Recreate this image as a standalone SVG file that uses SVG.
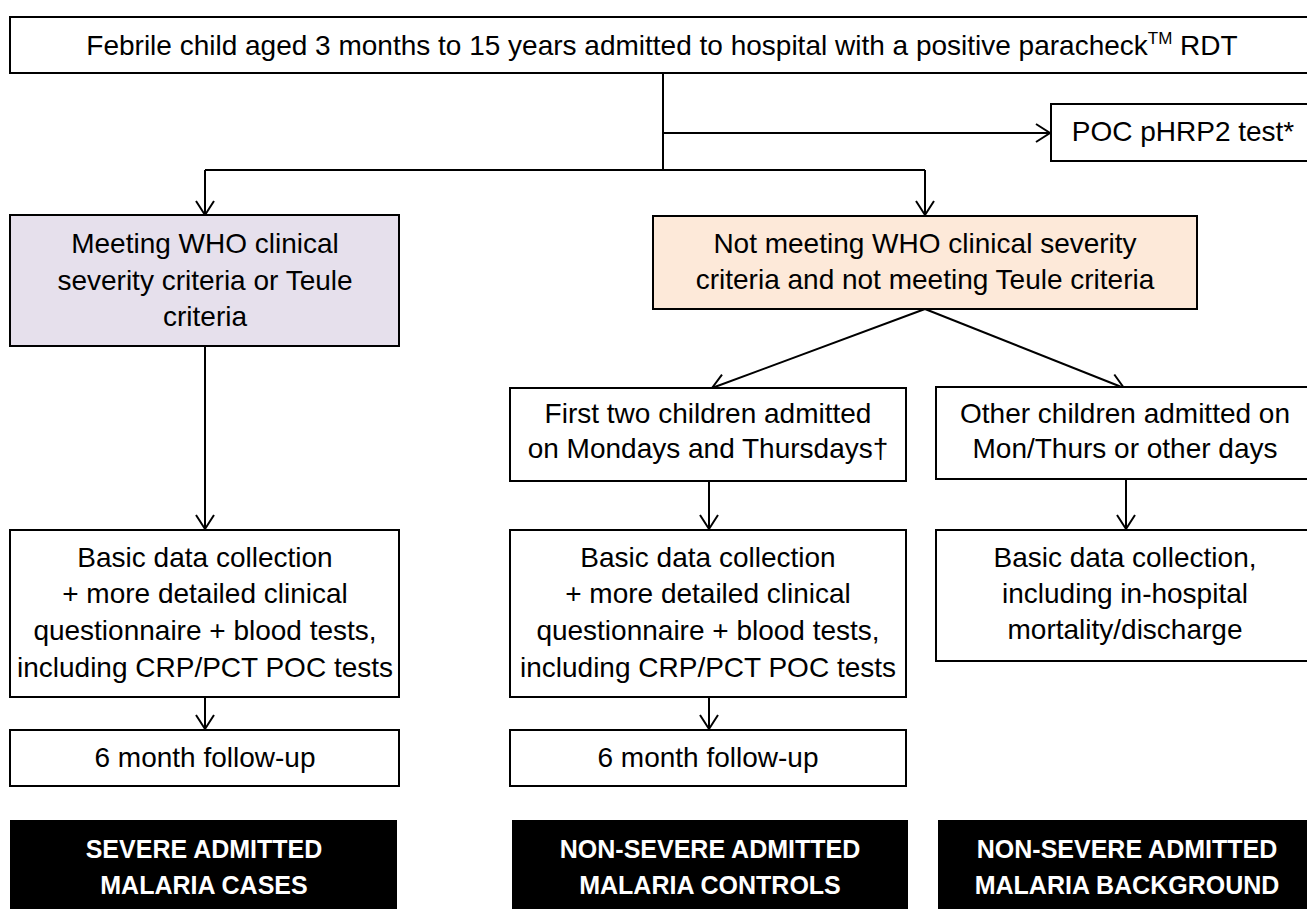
<svg xmlns="http://www.w3.org/2000/svg" width="1307" height="909" viewBox="0 0 1307 909">
<style>
  .box { fill: #ffffff; stroke: #000; stroke-width: 2; }
  .purple { fill: #e6e0ec; stroke: #000; stroke-width: 2; }
  .orange { fill: #fde9d9; stroke: #000; stroke-width: 2; }
  .black { fill: #000; stroke: none; }
  .t { font-family: "Liberation Sans", Arial, sans-serif; font-size: 28px; fill: #000; text-anchor: middle; }
  .w { font-family: "Liberation Sans", Arial, sans-serif; font-size: 25px; font-weight: bold; fill: #fff; text-anchor: middle; }
  .ln { fill: none; stroke: #000; stroke-width: 2; }
  .arr { fill: none; stroke: #000; stroke-width: 2; marker-end: url(#ah); }
</style>
<defs>
  <marker id="ah" markerUnits="userSpaceOnUse" markerWidth="20" markerHeight="24" viewBox="-16 -12 20 24" refX="0" refY="0" orient="auto">
    <path d="M -14 -9 L 0 0 L -14 9" fill="none" stroke="#000" stroke-width="2"/>
  </marker>
</defs>
<rect width="1307" height="909" fill="#fff"/>

<g id="connectors">
  <path class="ln" d="M 663 73 L 663 170"/>
  <path class="arr" d="M 663 133 L 1050 133"/>
  <path class="ln" d="M 205 170 L 925 170"/>
  <path class="arr" d="M 205 170 L 205 215"/>
  <path class="arr" d="M 925 170 L 925 215"/>
  <path class="arr" d="M 205 346 L 205 529"/>
  <path class="arr" d="M 205 697 L 205 729"/>
  <path class="arr" d="M 925 309 L 712 388"/>
  <path class="arr" d="M 925 309 L 1124 388"/>
  <path class="arr" d="M 709 481 L 709 529"/>
  <path class="arr" d="M 709 697 L 709 729"/>
  <path class="arr" d="M 1126 479 L 1126 529"/>
</g>

<g id="n-top">
  <rect class="box" x="10" y="17" width="1310" height="56"/>
  <text class="t" x="662" y="55">Febrile child aged 3 months to 15 years admitted to hospital with a positive paracheck<tspan font-size="17" dy="-11">TM</tspan><tspan dy="11"> RDT</tspan></text>
</g>

<g id="n-poc">
  <rect class="box" x="1051" y="104" width="270" height="57"/>
  <text class="t" x="1183" y="141">POC pHRP2 test*</text>
</g>

<g id="n-severe">
  <rect class="purple" x="10" y="215" width="389" height="131"/>
  <text class="t" x="205" y="253">Meeting WHO clinical</text>
  <text class="t" x="205" y="290">severity criteria or Teule</text>
  <text class="t" x="205" y="326">criteria</text>
</g>

<g id="n-nonsevere">
  <rect class="orange" x="653" y="216" width="544" height="93"/>
  <text class="t" x="925" y="253">Not meeting WHO clinical severity</text>
  <text class="t" x="925" y="289">criteria and not meeting Teule criteria</text>
</g>

<g id="n-firsttwo">
  <rect class="box" x="510" y="388" width="396" height="93"/>
  <text class="t" x="708" y="423">First two children admitted</text>
  <text class="t" x="708" y="458">on Mondays and Thursdays†</text>
</g>

<g id="n-other">
  <rect class="box" x="936" y="387" width="380" height="92"/>
  <text class="t" x="1125" y="423">Other children admitted on</text>
  <text class="t" x="1125" y="458">Mon/Thurs or other days</text>
</g>

<g id="n-basic-left">
  <rect class="box" x="10" y="530" width="389" height="167"/>
  <text class="t" x="205" y="567">Basic data collection</text>
  <text class="t" x="205" y="603">+ more detailed clinical</text>
  <text class="t" x="205" y="640">questionnaire + blood tests,</text>
  <text class="t" x="205" y="677">including CRP/PCT POC tests</text>
</g>

<g id="n-basic-mid">
  <rect class="box" x="510" y="530" width="396" height="167"/>
  <text class="t" x="708" y="567">Basic data collection</text>
  <text class="t" x="708" y="603">+ more detailed clinical</text>
  <text class="t" x="708" y="640">questionnaire + blood tests,</text>
  <text class="t" x="708" y="677">including CRP/PCT POC tests</text>
</g>

<g id="n-basic-right">
  <rect class="box" x="936" y="530" width="380" height="131"/>
  <text class="t" x="1125" y="567">Basic data collection,</text>
  <text class="t" x="1125" y="603">including in-hospital</text>
  <text class="t" x="1125" y="639">mortality/discharge</text>
</g>

<g id="n-follow-left">
  <rect class="box" x="10" y="730" width="389" height="56"/>
  <text class="t" x="205" y="767">6 month follow-up</text>
</g>

<g id="n-follow-mid">
  <rect class="box" x="510" y="730" width="396" height="56"/>
  <text class="t" x="708" y="767">6 month follow-up</text>
</g>

<g id="n-cases">
  <rect class="black" x="10" y="820" width="387" height="95"/>
  <text class="w" x="204" y="858">SEVERE ADMITTED</text>
  <text class="w" x="204" y="894">MALARIA CASES</text>
</g>

<g id="n-controls">
  <rect class="black" x="512" y="820" width="396" height="95"/>
  <text class="w" x="710" y="858">NON-SEVERE ADMITTED</text>
  <text class="w" x="710" y="894">MALARIA CONTROLS</text>
</g>

<g id="n-background">
  <rect class="black" x="938" y="820" width="380" height="95"/>
  <text class="w" x="1127" y="858">NON-SEVERE ADMITTED</text>
  <text class="w" x="1127" y="894">MALARIA BACKGROUND</text>
</g>
</svg>
